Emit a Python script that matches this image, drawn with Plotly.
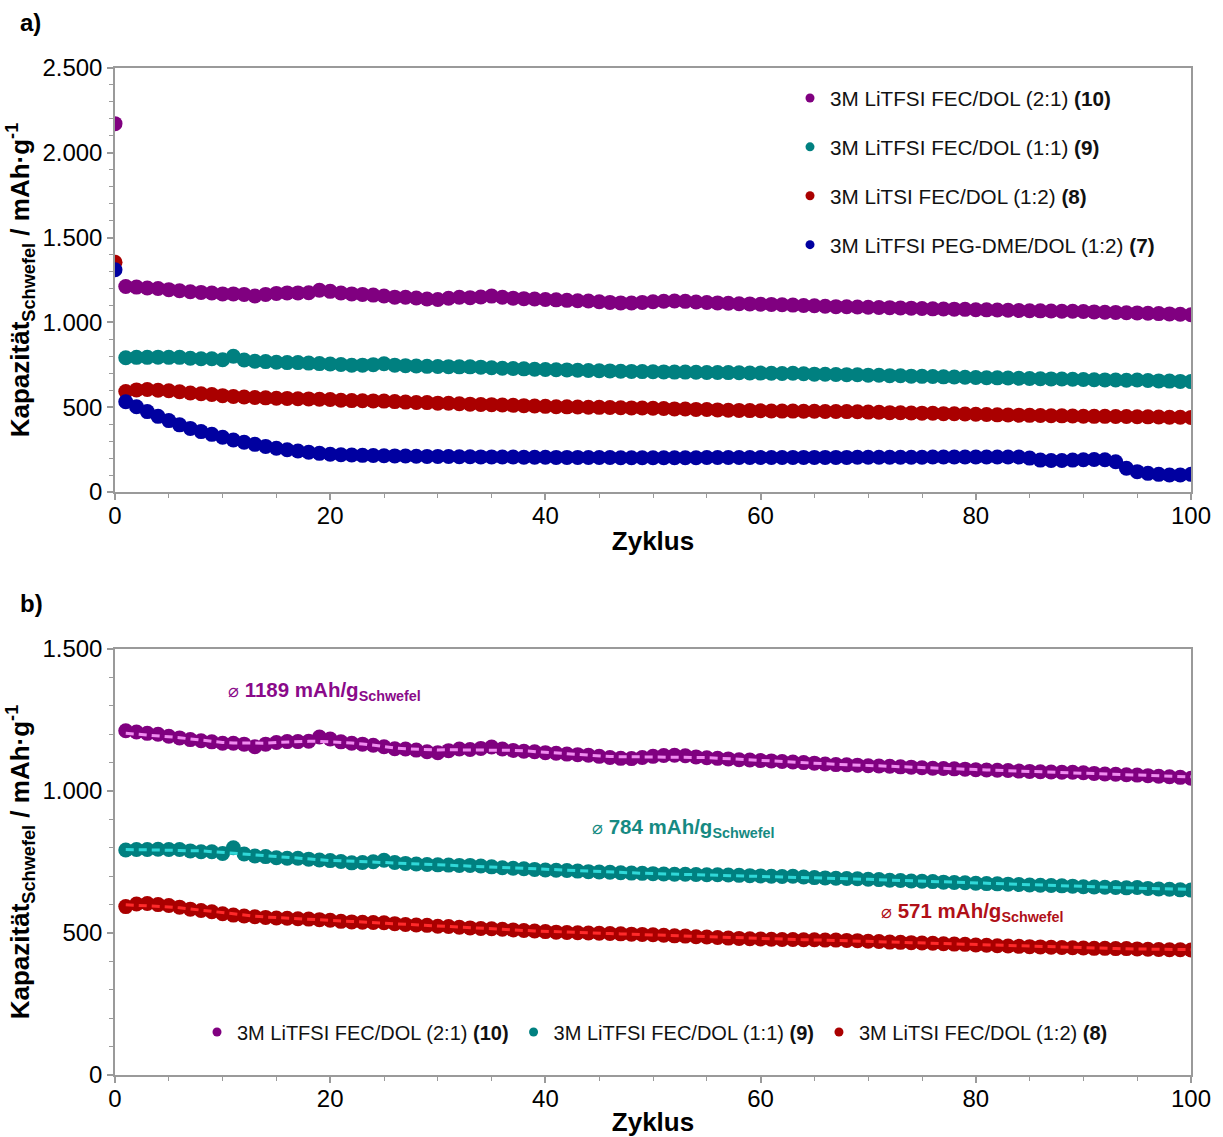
import numpy as np
import pandas as pd
import plotly.graph_objects as go

# Cycle numbers 1..100 (cycle 0 values are listed separately)
cycles = list(range(1, 101))

# 3M LiTFSI FEC/DOL (2:1) (10)
cap_fec21 = [1212, 1208, 1203, 1200, 1193, 1187, 1181, 1177, 1173, 1168,
             1168, 1165, 1156, 1165, 1171, 1174, 1174, 1175, 1190, 1183,
             1173, 1168, 1165, 1161, 1156, 1149, 1148, 1144, 1138, 1135,
             1142, 1148, 1146, 1150, 1155, 1148, 1143, 1140, 1138, 1135,
             1133, 1130, 1128, 1126, 1122, 1118, 1115, 1114, 1118, 1122,
             1125, 1126, 1124, 1120, 1117, 1115, 1113, 1110, 1109, 1107,
             1106, 1104, 1102, 1100, 1098, 1095, 1093, 1092, 1091, 1089,
             1088, 1087, 1085, 1084, 1082, 1080, 1079, 1078, 1077, 1075,
             1074, 1073, 1072, 1070, 1069, 1068, 1067, 1066, 1066, 1064,
             1062, 1060, 1059, 1057, 1056, 1054, 1052, 1050, 1048, 1045]

# 3M LiTFSI FEC/DOL (1:1) (9)
cap_fec11 = [792, 794, 794, 795, 794, 794, 789, 786, 786, 780,
             800, 778, 771, 769, 765, 763, 763, 760, 757, 755,
             752, 747, 748, 751, 756, 748, 745, 743, 741, 740,
             739, 738, 738, 736, 733, 730, 728, 726, 724, 722,
             721, 720, 718, 716, 715, 714, 712, 711, 710, 709,
             708, 707, 707, 706, 705, 705, 704, 703, 702, 701,
             700, 699, 700, 697, 695, 694, 693, 692, 691, 689,
             688, 686, 685, 683, 682, 681, 679, 678, 677, 675,
             674, 673, 672, 671, 669, 668, 667, 666, 665, 663,
             662, 661, 660, 659, 660, 657, 655, 654, 652, 651]

# 3M LiTSI FEC/DOL (1:2) (8)
cap_fec12 = [593, 602, 604, 600, 597, 591, 584, 579, 575, 568,
             563, 560, 557, 555, 553, 552, 550, 549, 547, 545,
             541, 539, 538, 537, 536, 533, 530, 528, 527, 524,
             523, 520, 518, 516, 515, 513, 511, 509, 507, 505,
             503, 502, 501, 500, 499, 498, 497, 496, 495, 494,
             492, 490, 489, 487, 486, 484, 482, 481, 480, 479,
             478, 477, 477, 476, 476, 475, 475, 474, 473, 471,
             470, 468, 467, 466, 465, 464, 462, 461, 460, 458,
             457, 455, 454, 453, 452, 451, 450, 449, 448, 447,
             446, 446, 445, 445, 444, 443, 442, 441, 441, 440]

# 3M LiTFSI PEG-DME/DOL (1:2) (7)
cap_peg12 = [532, 503, 474, 446, 421, 396, 375, 356, 340, 323,
             307, 293, 281, 269, 258, 249, 242, 234, 228, 223,
             220, 218, 216, 215, 214, 213, 212, 211, 210, 210,
             209, 208, 208, 207, 207, 206, 206, 205, 205, 205,
             204, 204, 204, 203, 203, 203, 202, 202, 202, 202,
             202, 202, 202, 202, 203, 203, 203, 203, 203, 203,
             203, 203, 204, 204, 204, 204, 204, 204, 205, 205,
             205, 205, 205, 205, 205, 206, 206, 206, 206, 206,
             206, 206, 206, 206, 200, 188, 186, 186, 188, 190,
             192, 190, 178, 140, 120, 110, 104, 100, 100, 104]

# Cycle 0 (first discharge) capacities
cycle0_fec21 = 2172
cycle0_fec12 = 1355
cycle0_peg12 = 1310

# Mean capacities quoted in panel b
mean_fec21 = 1189
mean_fec11 = 784
mean_fec12 = 571

names = {
    "fec21": "3M LiTFSI FEC/DOL (2:1) <b>(10)</b>",
    "fec11": "3M LiTFSI FEC/DOL (1:1) <b>(9)</b>",
    "fec12": "3M LiTSI FEC/DOL (1:2) <b>(8)</b>",
    "peg12": "3M LiTFSI PEG-DME/DOL (1:2) <b>(7)</b>",
}
colors = {"fec21": "#800080", "fec11": "#008080", "fec12": "#aa0000", "peg12": "#0000a0"}
dash_colors = {"fec21": "#f08cf0", "fec11": "#30d8d8", "fec12": "#ff2a2a"}
label_colors = {"fec21": "#8a0a8a", "fec11": "#168a82", "fec12": "#b01018"}

FONT = "Liberation Sans, Arial, sans-serif"
MS = 15

fig = go.Figure()

# ---- panel a: all four electrolytes including cycle 0
series_a = [
    ("fec21", [0] + cycles, [cycle0_fec21] + cap_fec21),
    ("fec11", cycles, cap_fec11),
    ("fec12", [0] + cycles, [cycle0_fec12] + cap_fec12),
    ("peg12", [0] + cycles, [cycle0_peg12] + cap_peg12),
]
for key, xs, ys in series_a:
    fig.add_trace(go.Scatter(x=xs, y=ys, mode="markers", xaxis="x", yaxis="y",
                             marker=dict(size=MS, color=colors[key], line=dict(width=0)),
                             showlegend=False, hoverinfo="x+y"))
for i, (key, _, _) in enumerate(series_a):
    fig.add_trace(go.Scatter(x=[None], y=[None], mode="markers", xaxis="x", yaxis="y",
                             marker=dict(size=9, color=colors[key]),
                             name=names[key], legend="legend", legendgroup=f"a{i}"))

# ---- panel b: FEC electrolytes with smoothed dashed trend
series_b = [("fec21", cap_fec21), ("fec11", cap_fec11), ("fec12", cap_fec12)]
for key, ys in series_b:
    fig.add_trace(go.Scatter(x=cycles, y=ys, mode="markers", xaxis="x2", yaxis="y2",
                             marker=dict(size=MS, color=colors[key], line=dict(width=0)),
                             showlegend=False))
    trend = pd.Series(ys).rolling(9, center=True, min_periods=1).mean()
    fig.add_trace(go.Scatter(x=cycles, y=trend, mode="lines", xaxis="x2", yaxis="y2",
                             line=dict(color=dash_colors[key], width=3, dash="8px,5px"),
                             showlegend=False, hoverinfo="skip"))
for key, _ in series_b:
    fig.add_trace(go.Scatter(x=[None], y=[None], mode="markers", xaxis="x2", yaxis="y2",
                             marker=dict(size=9, color=colors[key]),
                             name=names[key], legend="legend2"))

W, H = 1223, 1137
xdom = [115 / W, 1191 / W]
ydom_a = [1 - 492 / H, 1 - 68 / H]
ydom_b = [1 - 1075 / H, 1 - 649 / H]

axis_col = "#9a9a9a"
common_x = dict(range=[0, 100], dtick=20, tick0=0, ticks="outside", ticklen=6, tickwidth=1.5,
                tickcolor=axis_col, showline=True, linecolor=axis_col, linewidth=1.5,
                mirror=True, showgrid=False, zeroline=False, ticklabelstandoff=-5,
                minor=dict(ticks="outside", dtick=5, ticklen=4, tickcolor=axis_col, tickwidth=1.2),
                tickfont=dict(size=24, color="#000", family=FONT),
                title=dict(text="<b>Zyklus</b>", font=dict(size=26, color="#000", family=FONT),
                           standoff=4),
                automargin=False, domain=xdom)
common_y = dict(ticks="outside", ticklen=6, tickwidth=1.5, tickcolor=axis_col,
                showline=True, linecolor=axis_col, linewidth=1.5, mirror=True,
                showgrid=False, zeroline=False, separatethousands=True,
                minor=dict(ticks="outside", dtick=100, ticklen=4, tickcolor=axis_col, tickwidth=1.2),
                tickfont=dict(size=24, color="#000", family=FONT),
                title=dict(text="<b>Kapazität<sub>Schwefel</sub> / mAh·g<sup>-1</sup></b>",
                           font=dict(size=26, color="#000", family=FONT), standoff=5),
                automargin=False)

fig.update_layout(
    width=W, height=H, autosize=False,
    margin=dict(l=0, r=0, t=0, b=0),
    paper_bgcolor="white", plot_bgcolor="white",
    separators=",.",
    font=dict(family=FONT, color="#000"),
    xaxis=dict(common_x, anchor="y"),
    yaxis=dict(common_y, range=[0, 2500], dtick=500, domain=ydom_a, anchor="x"),
    xaxis2=dict(common_x, anchor="y2"),
    yaxis2=dict(common_y, range=[0, 1500], dtick=500, domain=ydom_b, anchor="x2"),
    legend=dict(x=790 / W, y=1 - 78 / H, xanchor="left", yanchor="top",
                font=dict(size=20.7, color="#111", family=FONT), bgcolor="rgba(0,0,0,0)",
                tracegroupgap=19, itemwidth=30),
    legend2=dict(orientation="h", x=197 / W, y=1 - 1032 / H, xanchor="left", yanchor="middle",
                 font=dict(size=20, color="#111", family=FONT), bgcolor="rgba(0,0,0,0)",
                 itemwidth=30),
    annotations=[
        dict(text="<b>a)</b>", xref="paper", yref="paper", x=18 / W, y=1 - 22 / H,
             xanchor="left", yanchor="middle", showarrow=False,
             font=dict(size=24, color="#000", family=FONT)),
        dict(text="<b>b)</b>", xref="paper", yref="paper", x=18 / W, y=1 - 603 / H,
             xanchor="left", yanchor="middle", showarrow=False,
             font=dict(size=24, color="#000", family=FONT)),
        dict(text=f"<span style='font-size:18px'>⌀</span> <b>{mean_fec21} mAh/g<sub>Schwefel</sub></b>",
             xref="x2", yref="y2", x=10.3, y=1352, xanchor="left", yanchor="middle",
             showarrow=False, font=dict(size=20.5, color=label_colors["fec21"], family=FONT)),
        dict(text=f"<span style='font-size:18px'>⌀</span> <b>{mean_fec11} mAh/g<sub>Schwefel</sub></b>",
             xref="x2", yref="y2", x=44.1, y=870, xanchor="left", yanchor="middle",
             showarrow=False, font=dict(size=20.5, color=label_colors["fec11"], family=FONT)),
        dict(text=f"<span style='font-size:18px'>⌀</span> <b>{mean_fec12} mAh/g<sub>Schwefel</sub></b>",
             xref="x2", yref="y2", x=71.0, y=574, xanchor="left", yanchor="middle",
             showarrow=False, font=dict(size=20.5, color=label_colors["fec12"], family=FONT)),
    ],
)

fig.write_html("out.html")
